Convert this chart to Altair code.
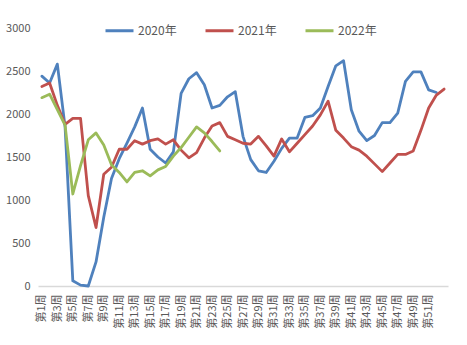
import altair as alt
import pandas as pd

weeks = [f"第{i}周" for i in range(1, 54)]
tick_labels = [f"第{i}周" for i in range(1, 52, 2)]
series = ["2020年", "2021年", "2022年"]
colors = ["#4F81BD", "#C0504D", "#9BBB59"]

s2020 = [2440, 2360, 2580, 1850, 60, 10, 0, 280, 800, 1250,
         1480, 1660, 1850, 2070, 1590, 1500, 1430, 1560, 2240, 2410,
         2480, 2340, 2070, 2100, 2200, 2260, 1740, 1470, 1340, 1320,
         1450, 1600, 1720, 1720, 1960, 1980, 2070, 2320, 2560, 2620,
         2050, 1800, 1690, 1750, 1900, 1900, 2010, 2380, 2490, 2490,
         2280, 2250]
s2021 = [2320, 2360, 2100, 1880, 1950, 1950, 1050, 680, 1300, 1380,
         1590, 1590, 1690, 1650, 1690, 1710, 1650, 1700, 1580, 1490,
         1550, 1720, 1860, 1900, 1740, 1700, 1660, 1650, 1740, 1630,
         1510, 1710, 1560, 1660, 1760, 1860, 1990, 2150, 1810, 1720,
         1620, 1580, 1510, 1420, 1330, 1430, 1530, 1530, 1570, 1810,
         2070, 2220, 2290]
s2022 = [2190, 2230, 2050, 1870, 1070, 1400, 1700, 1780, 1640, 1410,
         1320, 1210, 1320, 1340, 1280, 1350, 1390, 1510, 1610, 1730,
         1850, 1780, 1680, 1570]

rows = []
for name, vals in zip(series, [s2020, s2021, s2022]):
    for w, v in zip(weeks, vals):
        rows.append({"week": w, "series": name, "value": v})
df = pd.DataFrame(rows)

FONT = "Noto Sans CJK SC"
GREY = "#595959"

chart = alt.Chart(df).mark_line(strokeWidth=2.8, strokeJoin="round", strokeCap="round").encode(
    x=alt.X("week:N", sort=weeks, title=None,
            scale=alt.Scale(domain=weeks, padding=0.5),
            axis=alt.Axis(values=tick_labels, labelAngle=-90, labelFont=FONT,
                          labelFontSize=11, labelColor=GREY, ticks=False,
                          labelPadding=8, domainColor="#D9D9D9", domainWidth=1.3,
                          grid=False, labelOverlap=False)),
    y=alt.Y("value:Q", title=None,
            scale=alt.Scale(domain=[0, 3000], nice=False),
            axis=alt.Axis(values=[0, 500, 1000, 1500, 2000, 2500, 3000], format="d",
                          labelFont=FONT, labelFontSize=11, labelColor=GREY,
                          ticks=False, domain=False, grid=False, labelPadding=8)),
    color=alt.Color("series:N", title=None,
                    scale=alt.Scale(domain=series, range=colors),
                    legend=alt.Legend(orient="none", legendX=66, legendY=-13,
                                      direction="horizontal", symbolType="stroke",
                                      symbolSize=784, symbolStrokeWidth=3,
                                      labelFont=FONT, labelFontSize=12,
                                      labelColor=GREY, labelOffset=3,
                                      columnPadding=22)),
).properties(
    width=410, height=258,
    autosize=alt.AutoSizeParams(type="none"),
    padding={"left": 38, "top": 28, "right": 19, "bottom": 59},
).configure_view(stroke=None)

chart.save("out.html", embed_options={"renderer": "svg", "actions": False})
